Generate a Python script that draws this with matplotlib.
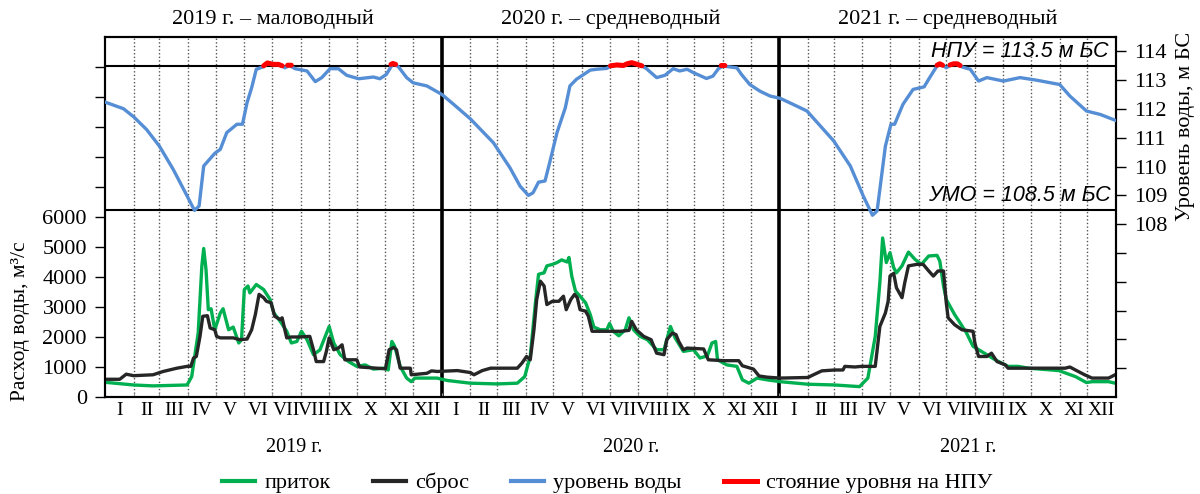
import matplotlib

matplotlib.use("Agg")
import matplotlib.pyplot as plt
import numpy as np
from matplotlib.lines import Line2D
from matplotlib.transforms import blended_transform_factory

# x values are day numbers counted from 2019-01-01
YEARS = [2019, 2020, 2021]
YEAR_TITLES = ["2019 г. – маловодный", "2020 г. – средневодный", "2021 г. – средневодный"]
MONTHS = ["I", "II", "III", "IV", "V", "VI", "VII", "VIII", "IX", "X", "XI", "XII"]

inflow_days = [
    0, 31, 52, 89, 94, 101, 105, 107, 109.5, 112, 115, 119, 125, 128, 134, 139, 145, 148,
    151, 155, 157, 164, 172, 179, 183, 190, 197, 202, 208, 213, 219, 226, 233, 243, 248,
    255, 264, 273, 282, 291, 302, 307, 311, 314, 320, 327, 332, 336,
    360, 371, 396, 425, 447, 455, 461, 467, 470, 476, 479, 485, 490, 495, 501, 503, 506,
    510, 515, 521, 526, 530, 537, 544, 547, 551, 557, 564, 568, 573, 580, 588, 598, 606,
    613, 618, 627, 638, 645, 653, 658, 662, 664, 674, 685, 691, 698, 707, 718,
    732, 762, 791, 818, 827, 835, 840, 843, 847, 851, 855, 858, 864, 871, 878, 885, 893,
    902, 905, 909, 912, 921, 927, 934, 941, 950, 965, 979, 990, 1001, 1034, 1052, 1064,
    1070, 1088, 1095,
]
inflow = [
    490, 400, 370, 400, 680, 2130, 4370, 4950, 4250, 2910, 2940, 2240, 2800, 2940, 2240, 2330, 1800, 1910,
    3580, 3700, 3470, 3750, 3580, 3250, 2800, 2520, 2190, 1800, 1850, 2190, 1910, 1410, 1570, 2350, 1800,
    1410, 1180, 1020, 1070, 930, 960, 900, 1850, 1690, 1020, 630, 510, 630,
    630, 550, 460, 435, 460, 680, 1350, 3250, 4090, 4140, 4370, 4420, 4480, 4570, 4500, 4650, 4030,
    3530, 3360, 3140, 2750, 2330, 2240, 2240, 2450, 2190, 2040, 2240, 2640, 2240, 2020, 1910, 1575, 1575,
    2350, 1970, 1520, 1575, 1300, 1370, 1800, 1850, 1240, 1070, 1020, 570, 460, 630, 570,
    510, 425, 400, 345, 630, 2020, 3810, 5300, 4480, 4810, 4310, 4140, 4370, 4830, 4590, 4420, 4700,
    4720, 4530, 3700, 3250, 2750, 2470, 2130, 1690, 1520, 1240, 1020, 1020, 960, 880, 680, 480,
    510, 510, 460,
]

outflow_days = [
    0, 16, 23, 31, 52, 63, 78, 89, 93, 96, 99, 103, 106, 111, 114, 119, 121, 125, 139, 146,
    154, 159, 163, 167, 172, 175, 180, 184, 190, 192, 197, 202, 211, 222, 226, 229, 237, 240,
    243, 248, 253, 257, 260, 273, 276, 304, 308, 313, 316, 320, 331, 332, 349, 354,
    360, 382, 396, 400, 409, 418, 447, 452, 457, 461, 465, 468, 472, 476, 479, 485, 492, 497,
    500, 505, 509, 512, 515, 521, 524, 528, 541, 559, 568, 571, 576, 584, 592, 598, 606, 609,
    615, 619, 622, 627, 631, 649, 654, 671, 687, 691, 703, 709, 718,
    732, 762, 768, 777, 791, 800, 802, 813, 820, 835, 840, 846, 849, 851, 855, 858, 864, 867,
    871, 880, 887, 893, 898, 903, 909, 912, 914, 921, 929, 941, 943, 947, 956, 961, 967, 976,
    979, 1041, 1046, 1052, 1062, 1070, 1088, 1095,
]
outflow = [
    590, 590, 760, 710, 740, 850, 960, 1020, 1020, 1300, 1350, 2020, 2690, 2710, 2300, 2240, 2020, 1970, 1970, 1910,
    1930, 2240, 2750, 3420, 3310, 3190, 3140, 2690, 2580, 2640, 1970, 2000, 2000, 2020, 1575, 1180, 1180, 1520,
    1970, 1575, 1630, 1740, 1240, 1240, 1000, 940, 1575, 1650, 1575, 960, 960, 740, 790, 870,
    850, 880, 815, 740, 880, 960, 960, 1130, 1350, 1240, 2240, 3250, 3860, 3700, 3080, 3190, 3190, 3360,
    2910, 3250, 3420, 3310, 2910, 2860, 2690, 2190, 2190, 2190, 2220, 2520, 2240, 2020, 1910, 1460, 1410, 1910,
    2130, 2080, 1850, 1575, 1630, 1600, 1240, 1210, 1210, 1040, 930, 700, 660,
    630, 650, 740, 870, 900, 900, 1020, 1000, 1020, 1020, 2350, 2800, 3190, 4030, 4120, 3640, 3310, 3810,
    4370, 4420, 4420, 4200, 4030, 4200, 4200, 3140, 2640, 2410, 2240, 2190, 1800, 1350, 1350, 1460, 1180, 1070,
    960, 960, 1000, 900, 740, 630, 630, 740,
]

level_days = [
    0, 20, 31, 45, 59, 74, 89, 97, 102, 107, 110, 119, 125, 132, 143, 149, 154, 159, 164, 172,
    176, 182, 188, 192, 195, 200, 206, 219, 228, 235, 244, 253, 262, 275, 291, 298, 305, 312,
    318, 327, 334, 349,
    365, 378, 396, 421, 439, 450, 459, 464, 470, 477, 482, 490, 499, 504, 511, 519, 526, 533,
    544, 550, 560, 566, 571, 577, 582, 587, 598, 607, 616, 623, 631, 638, 652, 659, 665, 670,
    685, 690, 699, 710, 721,
    732, 746, 761, 790, 808, 822, 832, 837, 846, 852, 856, 865, 876, 888, 894, 903, 909, 912,
    918, 924, 930, 938, 947, 956, 974, 992, 1010, 1035, 1046, 1064, 1079, 1095,
]
level = [
    112.24, 112.01, 111.73, 111.29, 110.71, 109.90, 108.98, 108.48, 108.63, 110.02, 110.13, 110.46, 110.60, 111.18, 111.47, 111.47, 112.22, 112.74, 113.38, 113.47,
    113.58, 113.55, 113.55, 113.50, 113.43, 113.51, 113.40, 113.32, 112.95, 113.09, 113.40, 113.40, 113.17, 113.05, 113.11, 113.05, 113.20, 113.57,
    113.47, 113.09, 112.91, 112.80,
    112.51, 112.16, 111.66, 110.83, 109.96, 109.32, 109.00, 109.09, 109.46, 109.50, 110.13, 111.18, 112.04, 112.80, 113.03, 113.20, 113.35, 113.38,
    113.41, 113.52, 113.50, 113.56, 113.60, 113.55, 113.50, 113.40, 113.09, 113.17, 113.40, 113.32, 113.38, 113.26, 113.06, 113.14, 113.40, 113.49,
    113.43, 113.20, 112.85, 112.62, 112.45,
    112.37, 112.16, 111.93, 110.89, 110.02, 108.98, 108.31, 108.46, 110.71, 111.47, 111.47, 112.16, 112.68, 112.77, 113.09, 113.55, 113.50, 113.43,
    113.55, 113.55, 113.45, 113.38, 112.97, 113.09, 112.97, 113.09, 113.00, 112.85, 112.45, 111.93, 111.81, 111.61,
]

# periods with the level held at НПУ (nan separates the periods)
npu_days = [
    172, 176, 182, 188, 192, np.nan, 198, 202, np.nan, 310, 312, 315, np.nan,
    548, 555, 562, 566, 571, 577, 582, np.nan, 668, 672, np.nan,
    902, 905, 908, np.nan, 916, 920, 924, 927,
]
npu_level = [
    113.50, 113.60, 113.55, 113.55, 113.50, np.nan, 113.52, 113.52, np.nan, 113.55, 113.58, 113.55, np.nan,
    113.50, 113.53, 113.51, 113.57, 113.61, 113.55, 113.50, np.nan, 113.51, 113.51, np.nan,
    113.52, 113.57, 113.52, np.nan, 113.53, 113.57, 113.57, 113.51,
]

NPU = 113.5
UMO = 108.5

plt.rcParams.update(
    {
        "font.family": "Liberation Serif",
        "font.size": 15,
        "xtick.labelsize": 16,
        "ytick.labelsize": 16,
    }
)

GREEN = "#00b050"
BLACK = "#262626"
BLUE = "#558ed5"
RED = "#ff0000"

base = np.datetime64("2019-01-01")
month_starts = np.arange("2019-01", "2022-02", dtype="datetime64[M]").astype("datetime64[D]")
month_edges = (month_starts - base).astype(int)
year_edges = month_edges[::12]
total_days = month_edges[-1]

fig = plt.figure(figsize=(12, 4.94), dpi=100)
ax = fig.add_axes([0.0875, 0.1964, 0.8425, 0.7287])
ax2 = ax.twinx()

# month grid and year separators
for d in month_edges[1:-1]:
    if d in year_edges:
        ax.axvline(d, color="black", lw=2.6, zorder=1)
    else:
        ax.axvline(d, color="#555555", lw=1.0, ls=(0, (1, 1.6)), zorder=1)

ax.plot(inflow_days, inflow, color=GREEN, lw=2.4, zorder=3)
ax.plot(outflow_days, outflow, color=BLACK, lw=2.4, zorder=4)

ax2.axhline(NPU, color="black", lw=1.5, zorder=1)
ax2.axhline(UMO, color="black", lw=1.5, zorder=1)
ax2.plot(level_days, level, color=BLUE, lw=2.4, zorder=3)
ax2.plot(npu_days, npu_level, color=RED, lw=3.6, zorder=4, solid_capstyle="round")

ax2.text(total_days - 8, 113.98, "НПУ = 113.5 м БС", family="Liberation Sans", style="italic",
         fontsize=15.5, ha="right", va="center")
ax2.text(total_days - 6, 109.0, "УМО = 108.5 м БС", family="Liberation Sans", style="italic",
         fontsize=15.5, ha="right", va="center")

ax.set_xlim(0, total_days)
ax.set_ylim(0, 12000)
ax2.set_ylim(102, 114.5)

q_ticks = np.arange(0, 12000, 1000)
ax.set_yticks(q_ticks)
ax.set_yticklabels([str(v) if v <= 6000 else "" for v in q_ticks])
h_ticks = np.arange(103, 115, 1)
ax2.set_yticks(h_ticks)
ax2.set_yticklabels([str(v) if v >= 108 else "" for v in h_ticks])

ax.set_xticks(month_edges)
ax.set_xticklabels([])
ax.tick_params(axis="x", direction="in", length=3, color="#999999")
ax.tick_params(axis="y", direction="out", length=7, width=1, pad=6)
ax2.tick_params(axis="y", direction="out", length=7, width=1, pad=6)

for a in (ax, ax2):
    for s in a.spines.values():
        s.set_linewidth(1.5)

trans = blended_transform_factory(ax.transData, ax.transAxes)
for i, y0 in enumerate(year_edges[:-1]):
    y1 = year_edges[i + 1]
    ax.text((y0 + y1) / 2, 1.05, YEAR_TITLES[i], transform=trans, ha="center", va="center", fontsize=16)
    ax.text(y0 + 205, -0.14, f"{YEARS[i]} г.", transform=trans, ha="center", va="center", fontsize=14.5)
    for m in range(12):
        c = (month_edges[i * 12 + m] + month_edges[i * 12 + m + 1]) / 2
        ax.text(c, -0.038, MONTHS[m], transform=trans, ha="center", va="center", fontsize=14)

fig.text(0.017, 0.35, "Расход воды, м³/с", rotation=90, ha="center", va="center", fontsize=15.5)
fig.text(0.988, 0.745, "Уровень воды, м БС", rotation=90, ha="center", va="center", fontsize=16)

handles = [
    Line2D([], [], color=GREEN, lw=3),
    Line2D([], [], color=BLACK, lw=3),
    Line2D([], [], color=BLUE, lw=3),
    Line2D([], [], color=RED, lw=3.6),
]
labels = ["приток", "сброс", "уровень воды", "стояние уровня на НПУ"]
fig.legend(handles, labels, loc="center", bbox_to_anchor=(0.506, 0.022), ncol=4, frameon=False,
           fontsize=16, handlelength=1.5, handletextpad=0.4, columnspacing=1.9)

fig.savefig("out.png", dpi=100)
